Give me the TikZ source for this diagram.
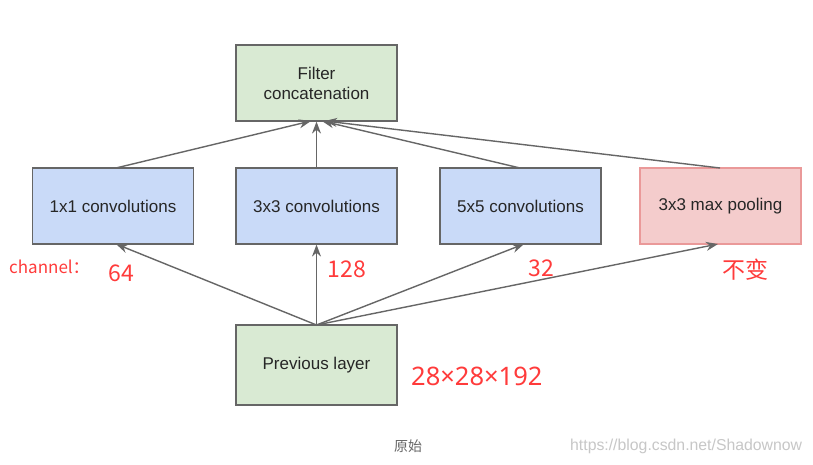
\documentclass[tikz,border=0pt]{standalone}
\usepackage{fontspec}
\setmainfont{Liberation Sans}
\newfontfamily\cjk{Noto Sans CJK SC}
\newfontfamily\nsans{Noto Sans}
\usetikzlibrary{arrows.meta}
\definecolor{gfill}{HTML}{D9EAD3}
\definecolor{bfill}{HTML}{C9DAF8}
\definecolor{pfill}{HTML}{F4CCCC}
\definecolor{pline}{HTML}{EA9999}
\definecolor{bline}{HTML}{666666}
\definecolor{redtxt}{HTML}{FF3B3B}
\tikzset{
  box/.style={draw=bline, line width=1.2pt, minimum width=161pt, minimum height=76pt, inner sep=0pt, align=center, font=\fontsize{17}{20}\selectfont, text=black!85},
  gbox/.style={box, fill=gfill},
  bbox/.style={box, fill=bfill},
  pbox/.style={box, fill=pfill, draw=pline},
  conn/.style={draw=bline, line width=1.4pt, -{Stealth[length=12pt,width=9pt]}},
  redlbl/.style={text=redtxt, inner sep=0pt, font=\cjk\fontsize{23}{26}\selectfont},
}
\begin{document}
\begin{tikzpicture}[x=1pt,y=-1pt]
\useasboundingbox (0,0) rectangle (813,465);
\fill[white] (0,0) rectangle (813,465);
\node[gbox] (fc) at (316.5,83) {Filter\\concatenation};
\node[bbox] (c1) at (113,206) {1x1 convolutions};
\node[bbox] (c3) at (316.5,206) {3x3 convolutions};
\node[bbox] (c5) at (520.5,206) {5x5 convolutions};
\node[pbox] (mp) at (720.5,206) {3x3 max pooling};
\node[gbox, minimum height=80pt] (pl) at (316.5,365) {Previous layer};
\coordinate (plt) at (316.5,325);
\coordinate (c1b) at (116,244);
\coordinate (c5b) at (524,244);
\coordinate (mpb) at (718,244);
\coordinate (c1t) at (116,168);
\coordinate (c5t) at (520,168);
\coordinate (mpt) at (720,168);
\coordinate (fcb1) at (311,121);
\coordinate (fcb5) at (322,121);
\coordinate (fcbm) at (325,121);
\draw[conn] (plt) -- (c1b);
\draw[conn] (plt) -- (c3.south);
\draw[conn] (plt) -- (c5b);
\draw[conn] (plt) -- (mpb);
\draw[conn] (c1t) -- (fcb1);
\draw[conn] (c3.north) -- (fc.south);
\draw[conn] (c5t) -- (fcb5);
\draw[conn] (mpt) -- (fcbm);
\node[text=redtxt, anchor=west, inner sep=0pt, font=\cjk\fontsize{17}{20}\selectfont] (ch) at (9,267) {channel：};
\node[redlbl] (n64) at (121,273) {64};
\node[redlbl] (n128) at (347,269) {128};
\node[redlbl] (n32) at (541,268) {32};
\node[redlbl] (nbb) at (745,270) {不变};
\node[redlbl, anchor=west, font=\nsans\fontsize{25.5}{28}\selectfont] (dim) at (411,376) {28×28×192};
\node[text=black!60, font=\cjk\fontsize{14}{16}\selectfont] (orig) at (408,446) {原始};
\node[text=black!22, anchor=west, inner sep=0pt, font=\fontsize{15.8}{18}\selectfont] (url) at (570,446) {https://blog.csdn.net/Shadownow};
\end{tikzpicture}
\end{document}
